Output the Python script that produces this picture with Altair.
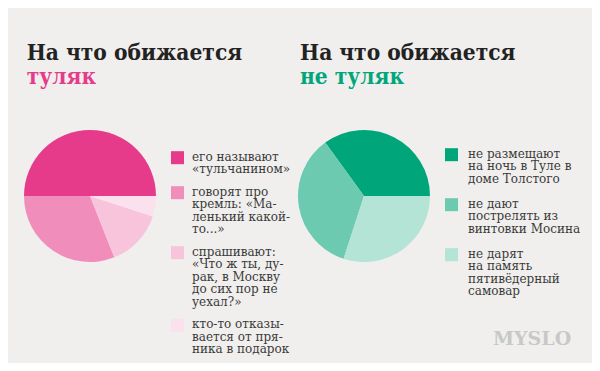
import altair as alt
import pandas as pd

# ---- data ----
title_top = "На что обижается"
subjects = ["туляк", "не туляк"]

left_labels = [
    "его называют\n«тульчанином»",
    "говорят про\nкремль: «Ма-\nленький какой-\nто...»",
    "спрашивают:\n«Что ж ты, ду-\nрак, в Москву\nдо сих пор не\nуехал?»",
    "кто-то отказы-\nвается от пря-\nника в подарок",
]
left_values = [50, 31, 14, 5]
left_colors = ["#E63B8A", "#F08DBB", "#F8C4DC", "#FBE1ED"]

right_labels = [
    "не размещают\nна ночь в Туле в\nдоме Толстого",
    "не дают\nпострелять из\nвинтовки Мосина",
    "не дарят\nна память\nпятивёдерный\nсамовар",
]
right_values = [35, 35, 30]
right_colors = ["#00A67A", "#6CCAB0", "#B3E4D6"]

watermark = "MYSLO"

# ---- style ----
BG = "#F0EFED"
SERIF = "DejaVu Serif"
TITLE_FONT = "DejaVu Serif Condensed, DejaVu Serif"
LINE = 12.5
PI = 3.141592653589793


def pie_df(labels, values):
    return pd.DataFrame({"cat": labels, "val": values, "idx": list(range(len(values)))})


def legend_frames(labels, gap_rows):
    lines, swatches = [], []
    row = 0.0
    for i, lab in enumerate(labels):
        parts = lab.split("\n")
        swatches.append({"cat": lab, "row": row, "idx": i})
        for j, p in enumerate(parts):
            lines.append({"t": p, "row": row + j})
        row += len(parts) + gap_rows
    return pd.DataFrame(lines), pd.DataFrame(swatches)


def pie(labels, values, colors, cx, cy):
    return alt.Chart(pie_df(labels, values)).mark_arc(radius=66, stroke=None).encode(
        theta=alt.Theta("val:Q", stack=True, scale=alt.Scale(range=[PI / 2, 5 * PI / 2])),
        order=alt.Order("idx:Q", sort="descending"),
        color=alt.Color("cat:N", scale=alt.Scale(domain=labels, range=colors), legend=None),
        x=alt.value(cx),
        y=alt.value(cy),
    )


def legend(labels, colors, gap_rows, tx, sx, top):
    lines, sw = legend_frames(labels, gap_rows)
    yscale = alt.Scale(domain=[0, 20], range=[top, top + 20 * LINE])
    txt = alt.Chart(lines).mark_text(
        align="left", baseline="alphabetic", font=SERIF, fontSize=12, color="#3A3A3A"
    ).encode(x=alt.value(tx), y=alt.Y("row:Q", scale=yscale, axis=None), text="t:N")
    sq = alt.Chart(sw).mark_square(size=169, opacity=1, yOffset=-3).encode(
        x=alt.value(sx),
        y=alt.Y("row:Q", scale=yscale, axis=None),
        color=alt.Color("cat:N", scale=alt.Scale(domain=labels, range=colors), legend=None),
    )
    return txt, sq


def title_text(text, x, y, color):
    return alt.Chart(pd.DataFrame({"t": [text]})).mark_text(
        align="left", baseline="alphabetic", font=TITLE_FONT, fontSize=22.5, fontWeight="bold", color=color
    ).encode(x=alt.value(x), y=alt.value(y), text="t:N")


lt, ls = legend(left_labels, left_colors, 0.8, 184, 169.5, 152.7)
rt, rs = legend(right_labels, right_colors, 1.0, 460, 443.5, 149.7)

wm = alt.Chart(pd.DataFrame({"t": [watermark]})).mark_text(
    align="left", baseline="alphabetic", font=SERIF, fontSize=19, fontWeight="bold", color="#C8C8C8"
).encode(x=alt.value(485), y=alt.value(337), text="t:N")

chart = alt.layer(
    pie(left_labels, left_values, left_colors, 82, 188),
    pie(right_labels, right_values, right_colors, 356, 188),
    title_text(title_top, 18.7, 51.5, "#222222"),
    title_text(subjects[0], 18.7, 75.8, "#E63B8A"),
    title_text(title_top, 292, 51.5, "#222222"),
    title_text(subjects[1], 292, 75.8, "#00A67A"),
    ls, lt, rs, rt, wm,
).resolve_scale(
    theta="independent", color="independent", y="independent"
).properties(
    width=584, height=355, background=BG, padding=0, autosize=alt.AutoSizeParams(type="none")
).configure_view(stroke=None)

chart.save("out.html", embed_options={"renderer": "svg", "actions": False})
